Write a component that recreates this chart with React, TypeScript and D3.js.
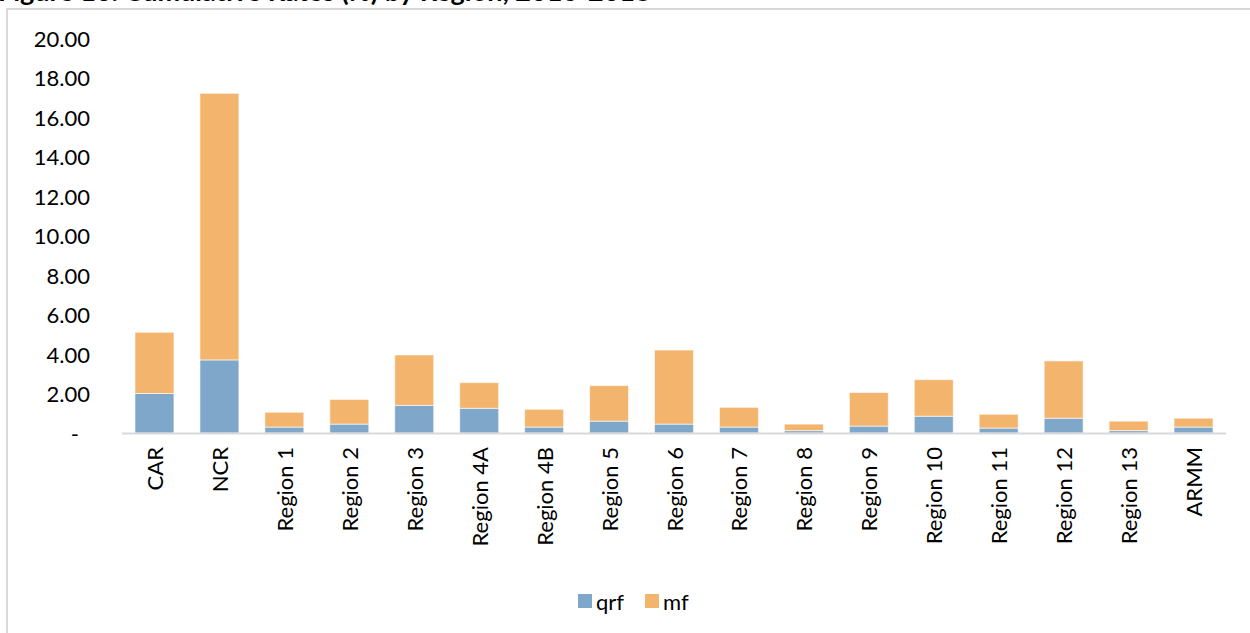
import React from "react";
import * as d3 from "d3";

const categories = ["CAR", "NCR", "Region 1", "Region 2", "Region 3", "Region 4A", "Region 4B", "Region 5", "Region 6", "Region 7", "Region 8", "Region 9", "Region 10", "Region 11", "Region 12", "Region 13", "ARMM"];
const qrf = [2.0, 3.7, 0.3, 0.45, 1.4, 1.25, 0.3, 0.6, 0.45, 0.3, 0.12, 0.35, 0.85, 0.25, 0.75, 0.12, 0.3];
const mf = [3.1, 13.5, 0.75, 1.25, 2.55, 1.3, 0.9, 1.8, 3.75, 1.0, 0.33, 1.7, 1.85, 0.7, 2.9, 0.48, 0.45];
const seriesNames = ["qrf", "mf"];
const seriesColors = ["#7ea7ca", "#f3b56d"];
const tickValues = [0, 2, 4, 6, 8, 10, 12, 14, 16, 18, 20];
const tickLabels = ["-", "2.00", "4.00", "6.00", "8.00", "10.00", "12.00", "14.00", "16.00", "18.00", "20.00"];
const title = "Figure 10. Cumulative Rates (%) by Region, 2016-2018";

const W = 1250, H = 633;
const FONT = "Lato, 'Open Sans', sans-serif";

export default function App() {
  const x = d3.scaleBand<string>().domain(categories).range([122, 1226]).paddingInner(0.4).paddingOuter(0.2);
  const y = d3.scaleLinear().domain([0, 20]).range([433, 38]);
  const rows = categories.map((c, i) => ({ cat: c, qrf: qrf[i], mf: mf[i] }));
  const stack = d3.stack<any>().keys(seriesNames)(rows);

  return (
    <div style={{ position: "absolute", left: 0, top: 0 }}>
      <svg width={W} height={H} style={{ display: "block", background: "#fff" }}>
        <text x={-2} y={1} fontFamily={FONT} fontWeight="bold" fontSize={27} fill="#000">{title}</text>
        <rect x={7} y={9} width={1300} height={700} fill="none" stroke="#d9d9d9" strokeWidth={2} />
        {tickValues.map((t, i) => (
          <text key={t} x={t === 0 ? 79 : 90} y={y(t)} textAnchor="end" dominantBaseline="central" fontFamily={FONT} fontSize={22} fill="#000">{tickLabels[i]}</text>
        ))}
        {stack.map((s, si) => (
          <g key={si} fill={seriesColors[si]}>
            {s.map((d, di) => (
              <rect key={di} x={x(categories[di])} width={x.bandwidth()} y={y(d[1])} height={y(d[0]) - y(d[1])} stroke="rgba(255,255,255,0.6)" strokeWidth={1} />
            ))}
          </g>
        ))}
        <line x1={122} x2={1226} y1={y(0) + 0.5} y2={y(0) + 0.5} stroke="#d9d9d9" strokeWidth={2} />
        {categories.map((c) => {
          const cx = (x(c) as number) + x.bandwidth() / 2;
          return (
            <text key={c} transform={`translate(${cx},447) rotate(-90)`} textAnchor="end" dominantBaseline="central" fontFamily={FONT} fontSize={22} fill="#000">{c}</text>
          );
        })}
        <g>
          <rect x={578} y={594} width={14} height={14} fill={seriesColors[0]} />
          <text x={596} y={601} dominantBaseline="central" fontFamily={FONT} fontSize={22} fill="#000">{seriesNames[0]}</text>
          <rect x={645} y={594} width={14} height={14} fill={seriesColors[1]} />
          <text x={663} y={601} dominantBaseline="central" fontFamily={FONT} fontSize={22} fill="#000">{seriesNames[1]}</text>
        </g>
      </svg>
    </div>
  );
}
